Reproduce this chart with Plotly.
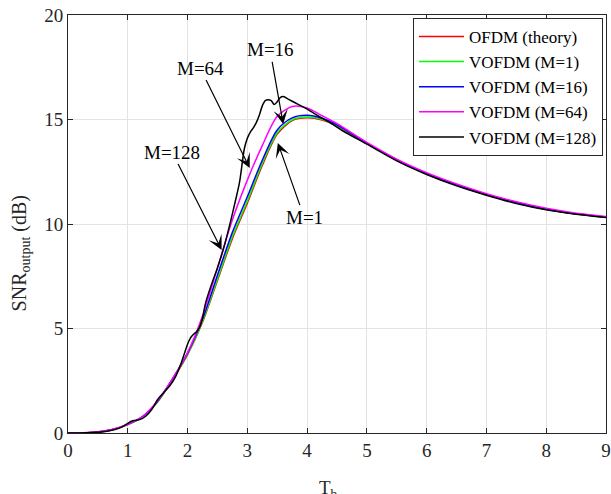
import plotly.graph_objects as go

# ---- data ----
x_common = [0, 0.25, 0.5, 0.75, 1.0, 1.25, 1.5, 1.75, 2.0, 2.25, 2.5, 2.75, 3.0, 3.25,
            3.5, 3.75, 4.0, 4.25, 4.5, 5.0, 5.5, 6.0, 6.5, 7.0, 7.5, 8.0, 8.5, 9.0]
ofdm_theory = [0, 0.01, 0.05, 0.17, 0.40, 0.78, 1.50, 2.55, 3.75, 5.30, 7.30, 9.30, 11.00, 12.80,
               14.30, 14.95, 15.08, 14.98, 14.70, 13.85, 13.05, 12.40, 11.87, 11.40, 11.02, 10.70, 10.48, 10.32]
vofdm_m1 = [0, 0.01, 0.05, 0.17, 0.40, 0.78, 1.50, 2.56, 3.77, 5.35, 7.37, 9.40, 11.10, 12.90,
            14.37, 14.99, 15.12, 15.01, 14.72, 13.86, 13.06, 12.40, 11.87, 11.40, 11.02, 10.70, 10.48, 10.32]
vofdm_m16 = [0, 0.01, 0.05, 0.17, 0.41, 0.79, 1.52, 2.60, 3.82, 5.45, 7.55, 9.60, 11.30, 13.05,
             14.50, 15.08, 15.20, 15.06, 14.75, 13.87, 13.07, 12.41, 11.88, 11.41, 11.03, 10.71, 10.49, 10.33]
vofdm_m64 = [0, 0.01, 0.06, 0.18, 0.42, 0.80, 1.55, 2.60, 3.85, 5.60, 7.90, 10.20, 12.10, 13.75,
             15.15, 15.62, 15.55, 15.18, 14.80, 13.90, 13.10, 12.45, 11.91, 11.45, 11.06, 10.75, 10.52, 10.36]

x_m128 = [0, 0.3, 0.6, 0.8, 0.9, 1.0, 1.05, 1.1, 1.2, 1.3, 1.4, 1.5, 1.6, 1.7, 1.8, 1.9, 2.0,
          2.05, 2.1, 2.15, 2.2, 2.25, 2.3, 2.4, 2.5, 2.6, 2.7, 2.8, 2.87, 2.95, 3.0, 3.05, 3.1,
          3.15, 3.2, 3.25, 3.3, 3.35, 3.4, 3.45, 3.5, 3.55, 3.6, 3.7, 3.8, 3.9, 4.0, 4.2, 4.4,
          4.6, 5.0, 5.5, 6.0, 6.5, 7.0, 7.5, 8.0, 8.5, 9.0]
vofdm_m128 = [0, 0.01, 0.06, 0.18, 0.28, 0.46, 0.55, 0.60, 0.64, 0.80, 1.12, 1.60, 1.93, 2.25,
              2.70, 3.40, 4.25, 4.55, 4.72, 4.85, 5.05, 5.50, 6.20, 7.10, 7.90, 8.80, 9.90, 11.10,
              12.00, 13.60, 14.10, 14.40, 14.60, 14.85, 15.20, 15.65, 15.90, 15.95, 15.90, 15.72,
              15.85, 16.05, 16.10, 15.95, 15.80, 15.65, 15.50, 15.15, 14.82, 14.45, 13.82, 13.02,
              12.37, 11.83, 11.38, 10.98, 10.68, 10.47, 10.31]

series_names = ["OFDM (theory)", "VOFDM (M=1)", "VOFDM (M=16)", "VOFDM (M=64)", "VOFDM (M=128)"]
series_colors = ["#ff0000", "#00ff00", "#0000ff", "#ff00ff", "#000000"]

# annotations: label, tip (x, y), label position (x, y)
ann_labels = ["M=128", "M=64", "M=16", "M=1"]
ann_tip = [(2.57, 8.76), (3.04, 12.68), (3.60, 14.78), (3.51, 13.88)]
ann_text = [(1.74, 13.44), (2.21, 17.46), (3.38, 18.33), (3.95, 10.33)]

FONT = "Times New Roman, Liberation Serif, serif"
AX = "#262626"

fig = go.Figure()
xs = [x_common, x_common, x_common, x_common, x_m128]
ys = [ofdm_theory, vofdm_m1, vofdm_m16, vofdm_m64, vofdm_m128]
for name, col, xv, yv in zip(series_names, series_colors, xs, ys):
    fig.add_trace(go.Scatter(x=xv, y=yv, mode="lines", name=name,
                             line=dict(color=col, width=1.5, shape="spline", smoothing=0.8)))

for lab, (tx, ty), (lx, ly) in zip(ann_labels, ann_tip, ann_text):
    fig.add_annotation(x=tx, y=ty, ax=lx, ay=ly, xref="x", yref="y", axref="x", ayref="y",
                       text=lab, showarrow=True, arrowhead=3, arrowsize=2.0, arrowwidth=1.2,
                       arrowcolor="black", standoff=0, startstandoff=0,
                       font=dict(family=FONT, size=19, color="black"))

# axis titles as annotations
fig.add_annotation(x=-0.089, y=0.43, xref="paper", yref="paper", textangle=-90,
                   text="SNR<sub>output</sub> (dB)", showarrow=False,
                   font=dict(family=FONT, size=20, color=AX), xanchor="center", yanchor="middle")
fig.add_annotation(x=0.485, y=-0.135, xref="paper", yref="paper",
                   text="T<sub>b</sub>", showarrow=False,
                   font=dict(family=FONT, size=19, color=AX), xanchor="center", yanchor="middle")

axis_common = dict(showline=True, linecolor=AX, linewidth=1, mirror="ticks", ticks="inside",
                   ticklen=5, tickcolor=AX, showgrid=True, gridcolor="#e3e3e3", gridwidth=1,
                   zeroline=False, automargin=False,
                   tickfont=dict(family=FONT, size=19, color=AX))
fig.update_xaxes(range=[0, 9], dtick=1, tick0=0, **axis_common)
fig.update_yaxes(range=[0, 20], dtick=5, tick0=0, **axis_common)

fig.update_layout(
    width=611, height=494,
    margin=dict(l=68, r=5, t=15, b=61, autoexpand=False),
    paper_bgcolor="white", plot_bgcolor="white",
    showlegend=True,
    legend=dict(x=0.9944, y=0.993, xanchor="right", yanchor="top",
                bgcolor="white", bordercolor=AX, borderwidth=1, itemwidth=45,
                font=dict(family=FONT, size=17, color="black"), tracegroupgap=0),
)

fig.write_html("out.html", config={"displayModeBar": False},
               post_script="document.body.style.margin='0';document.body.style.overflow='hidden';")
